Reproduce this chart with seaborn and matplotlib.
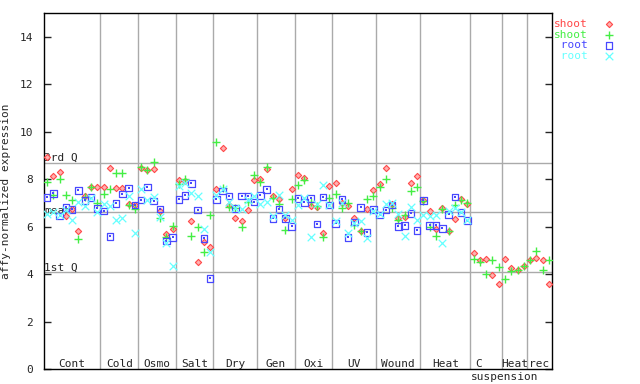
import numpy as np
import pandas as pd
import matplotlib
matplotlib.use("Agg")
import matplotlib.pyplot as plt
import seaborn as sns

# 1. DATOS
grupos = ["Cont", "Cold", "Osmo", "Salt", "Dry", "Gen", "Oxi", "UV",
          "Wound", "Heat", "C", "Heat", "rec"]
tamanos = [9, 6, 6, 6, 7, 6, 6, 7, 7, 8, 5, 4, 4]

shoot_rojo = [8.92, 8.13, 8.30, 6.45, 6.73, 5.82, 7.28, 7.66, 7.66,
              7.68, 8.46, 7.61, 7.61, 6.96, 6.90,
              8.46, 8.37, 8.41, 6.64, 5.68, 5.90,
              7.96, 7.92, 6.22, 4.50, 5.34, 5.13,
              7.57, 9.30, 6.91, 6.35, 6.24, 6.69, 7.95,
              8.00, 8.41, 7.28, 7.15, 6.35, 7.57,
              8.16, 8.05, 6.86, 6.81, 5.72, 7.70,
              7.82, 6.98, 6.86, 6.35, 5.80, 6.76, 7.53,
              7.80, 8.46, 6.95, 6.35, 6.39, 7.82, 8.12,
              7.11, 6.64, 5.89, 6.77, 5.80, 6.31, 7.15, 6.94,
              4.87, 4.58, 4.62, 3.95, 3.57,
              4.62, 4.27, 4.16, 4.33,
              4.58, 4.68, 4.58, 3.57]

shoot_verde = [7.89, 7.35, 7.99, 7.33, 7.12, 5.48, 7.25, 7.68, 7.00,
               7.36, 7.60, 8.25, 8.25, 6.90, 6.73,
               8.51, 8.37, 8.71, 6.36, 5.58, 6.01,
               7.78, 7.99, 5.59, 5.97, 4.92, 6.48,
               9.55, 7.61, 6.81, 6.80, 6.00, 7.04, 8.18,
               7.87, 8.50, 7.19, 6.97, 5.86, 7.15,
               7.74, 7.98, 7.02, 6.85, 5.58, 7.19,
               7.36, 6.77, 6.98, 6.05, 5.80, 7.15, 7.28,
               7.66, 7.99, 6.77, 6.27, 6.48, 7.49, 7.66,
               7.07, 6.00, 5.59, 6.73, 5.80, 6.90, 7.10, 7.01,
               4.62, 4.50, 3.99, 4.58, 4.29,
               3.78, 4.12, 4.16, 4.33,
               4.58, 4.96, 4.16, 4.58]

nan = np.nan
root_azul = [7.23, 7.40, 6.45, 6.81, 6.73, 7.53, 7.11, 7.22, 6.77,
             6.66, 5.59, 6.98, 7.37, 7.63, 6.90,
             7.12, 7.66, 7.07, 6.74, 5.39, 5.55,
             7.15, 7.32, 7.82, 6.69, 5.50, 3.82,
             7.15, 7.50, 7.28, 6.77, 7.28, 7.28, 7.04,
             7.32, 7.57, 6.35, 6.73, 6.35, 6.01,
             7.19, 7.02, 7.19, 6.10, 7.24, 6.90,
             6.14, 7.15, 5.55, 6.19, 6.81, 5.76, 6.73,
             6.49, 6.69, 6.90, 6.01, 6.05, 6.56, 5.84,
             7.11, 6.05, 6.05, 5.93, 6.52, 7.24, 6.59, 6.25,
             nan, nan, nan, nan, nan,
             nan, nan, nan, nan,
             nan, nan, nan, nan]

root_cian = [6.52, 6.63, 6.50, 6.70, 6.28, 7.02, 6.87, 7.20, 6.60,
             6.94, 6.87, 6.28, 6.35, 7.30, 5.72,
             7.57, 7.12, 7.23, 6.39, 5.30, 4.33,
             7.72, 7.85, 7.40, 7.28, 5.89, 4.92,
             7.32, 7.60, 7.05, 6.80, 6.73, 7.10, 7.28,
             6.95, 7.04, 6.46, 7.32, 6.50, 6.27,
             6.90, 7.19, 5.58, 6.95, 7.74, 6.90,
             6.25, 7.00, 5.73, 6.15, 6.24, 5.51, 6.65,
             6.55, 6.95, 7.00, 6.52, 5.59, 6.81, 6.27,
             6.48, 6.43, 6.48, 5.30, 6.64, 6.80, 6.62, 6.27,
             nan, nan, nan, nan, nan,
             nan, nan, nan, nan,
             nan, nan, nan, nan]

cuartil_3 = 8.68
media = 6.60
cuartil_1 = 4.07

df = pd.DataFrame({
    "pos": np.arange(len(shoot_rojo)),
    "shoot_rojo": shoot_rojo,
    "shoot_verde": shoot_verde,
    "root_azul": root_azul,
    "root_cian": root_cian,
})

# 2. ESTILO
sns.set_style("white")
plt.rcParams["font.family"] = ["DejaVu Sans Mono"]
plt.rcParams["font.size"] = 8

fig = plt.figure(figsize=(6.4, 3.84), dpi=100)
ax = fig.add_axes([44 / 640, 15 / 384, 508 / 640, 356 / 384])

# 3. LINEAS DE REFERENCIA
limites = np.cumsum(tamanos)[:-1]
for b in limites:
    ax.axvline(b - 0.5, color="#aaaaaa", lw=1.0, zorder=0)
for v in [cuartil_3, media, cuartil_1]:
    ax.axhline(v, color="#aaaaaa", lw=1.0, zorder=0)

ax.text(-0.45, cuartil_3, "3rd Q", ha="left", va="bottom", fontsize=8)
ax.text(-0.45, media - 0.15, "mean", ha="left", va="bottom", fontsize=8)
ax.text(-0.45, cuartil_1, "1st Q", ha="left", va="bottom", fontsize=8)

# 4. PUNTOS
rojo = "#ff4848"
verde = "#44ee44"
azul = "#4848ff"
cian = "#66ffff"

sns.scatterplot(data=df, x="pos", y="shoot_rojo", marker="D", s=10,
                color=rojo, facecolor="#ffb0b0", edgecolor=rojo,
                linewidth=0.8, ax=ax, label="shoot", zorder=3)
sns.scatterplot(data=df, x="pos", y="shoot_verde", marker="+", s=40,
                color=verde, linewidth=1.0, ax=ax, label="shoot", zorder=3)
sns.scatterplot(data=df, x="pos", y="root_azul", marker="s", s=22,
                color=azul, facecolor="none", edgecolor=azul,
                linewidth=0.9, ax=ax, label=" root", zorder=3)
sns.scatterplot(data=df, x="pos", y="root_azul", marker="s", s=1.5,
                color=azul, linewidth=0, ax=ax, zorder=3)
sns.scatterplot(data=df, x="pos", y="root_cian", marker="x", s=30,
                color=cian, linewidth=0.9, ax=ax, label=" root", zorder=3)

# 5. EJES
ax.set_xlim(-0.5, len(shoot_rojo) - 0.5)
ax.set_ylim(0, 15)
ax.set_yticks(range(0, 16, 2))
ax.set_xticks([])
ax.set_xlabel("")
ax.set_ylabel("affy-normalized expression", fontsize=8, labelpad=6)
ax.tick_params(axis="y", direction="in", length=5, width=1,
               left=True, right=True, pad=8, labelsize=8)
for sp in ax.spines.values():
    sp.set_color("black")
    sp.set_linewidth(1.0)

# etiquetas de grupos
inicio = 0
for nombre, n in zip(grupos, tamanos):
    centro = inicio + (n - 1) / 2
    if nombre == "C":
        ax.text(centro - 1.2, 0.22, "C", ha="center", va="center", fontsize=8)
        ax.text(centro + 2.9, -0.32, "suspension", ha="center", va="center",
                fontsize=8, clip_on=False)
    else:
        ax.text(centro, 0.22, nombre, ha="center", va="center", fontsize=8)
    inicio += n

# 6. LEYENDA
leg = ax.legend(loc="upper left", bbox_to_anchor=(0.995, 0.995),
                markerfirst=False, frameon=False, fontsize=8,
                labelcolor=[rojo, verde, azul, cian],
                handletextpad=1.4, labelspacing=0.05, borderaxespad=0,
                handlelength=1.0)

plt.savefig("out.png", dpi=100)
